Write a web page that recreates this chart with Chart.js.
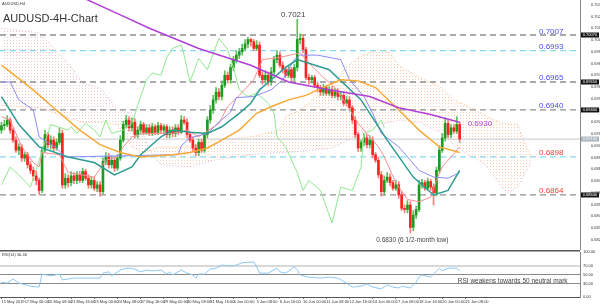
<!DOCTYPE html>
<html>
<head>
<meta charset="utf-8">
<title>AUDUSD-4H-Chart</title>
<script src="https://cdn.jsdelivr.net/npm/chart.js@4.4.1/dist/chart.umd.min.js"></script>
<style>
  html, body { margin: 0; padding: 0; background: #fff; }
  #wrap { position: relative; width: 600px; height: 306px; overflow: hidden; background: #fff; }
  #price-box { position: absolute; left: 0; top: 0; width: 600px; height: 250px; }
  #rsi-box { position: absolute; left: 0; top: 250px; width: 600px; height: 56px; }
</style>
</head>
<body>
<div id="wrap">
  <div id="price-box"><canvas id="price-chart"></canvas></div>
  <div id="rsi-box"><canvas id="rsi-chart"></canvas></div>
</div>
<script>
// --- data ---

const timeLabels = ["15 May 2019", "17 May 00:00", "20 May 08:00", "21 May 16:00", "23 May 00:00", "24 May 08:00",
  "27 May 16:00", "29 May 00:00", "30 May 08:00", "31 May 16:00", "4 Jun 00:00", "5 Jun 08:00", "6 Jun 16:00",
  "10 Jun 00:00", "11 Jun 08:00", "12 Jun 16:00", "14 Jun 00:00", "17 Jun 08:00", "18 Jun 16:00", "20 Jun 00:00",
  "21 Jun 08:00"];
const timeLabelBars = [0, 8, 16, 24, 32, 40, 48, 56, 64, 72, 80, 88, 96, 104, 112, 120, 128, 136, 144, 152, 160];

const priceTicks = [0.70340, 0.70235, 0.70130, 0.70025, 0.69920, 0.69815, 0.69710, 0.69605, 0.69500, 0.69395,
  0.69290, 0.69185, 0.69080, 0.68975, 0.68870, 0.68765, 0.68660, 0.68555, 0.68450, 0.68345, 0.68240];
const rsiTicks = [0, 30, 50, 70, 100];

const openPrices = [
  0.6922, 0.6926, 0.6927, 0.6931, 0.6922, 0.6913, 0.6904, 0.6907, 0.6897, 0.6900,
  0.6891, 0.6886, 0.6881, 0.6877, 0.6868, 0.6904, 0.6918, 0.6909, 0.6913, 0.6906,
  0.6911, 0.6919, 0.6873, 0.6879, 0.6875, 0.6881, 0.6877, 0.6882, 0.6877, 0.6885,
  0.6879, 0.6873, 0.6877, 0.6870, 0.6873, 0.6867, 0.6894, 0.6898, 0.6891, 0.6895,
  0.6888, 0.6897, 0.6913, 0.6927, 0.6931, 0.6924, 0.6929, 0.6918, 0.6922, 0.6927,
  0.6920, 0.6924, 0.6919, 0.6925, 0.6920, 0.6926, 0.6922, 0.6925, 0.6918, 0.6922,
  0.6919, 0.6924, 0.6920, 0.6931, 0.6929, 0.6918, 0.6913, 0.6906, 0.6902, 0.6911,
  0.6904, 0.6918, 0.6931, 0.6940, 0.6949, 0.6956, 0.6952, 0.6962, 0.6971, 0.6967,
  0.6978, 0.6985, 0.6989, 0.6992, 0.6995, 0.6999, 0.7003, 0.7001, 0.6995, 0.6998,
  0.6971, 0.6967, 0.6971, 0.6965, 0.6974, 0.6985, 0.6989, 0.6980, 0.6976, 0.6971,
  0.6976, 0.6969, 0.6978, 0.7003, 0.7004, 0.6994, 0.6969, 0.6967, 0.6969, 0.6962,
  0.6960, 0.6956, 0.6960, 0.6955, 0.6958, 0.6953, 0.6956, 0.6952, 0.6953, 0.6946,
  0.6949, 0.6942, 0.6931, 0.6918, 0.6906, 0.6911, 0.6915, 0.6909, 0.6913, 0.6900,
  0.6895, 0.6882, 0.6867, 0.6877, 0.6880, 0.6875, 0.6870, 0.6873, 0.6864, 0.6852,
  0.6851, 0.6855, 0.6835, 0.6846, 0.6851, 0.6873, 0.6875, 0.6870, 0.6876, 0.6871,
  0.6866, 0.6886, 0.6904, 0.6915, 0.6928, 0.6918, 0.6924, 0.6921, 0.6927
];
const highPrices = [
  0.6929, 0.6931, 0.6935, 0.6933, 0.6924, 0.6916, 0.6910, 0.6909, 0.6902, 0.6902,
  0.6894, 0.6889, 0.6885, 0.6879, 0.6907, 0.6922, 0.6920, 0.6917, 0.6916, 0.6914,
  0.6924, 0.6922, 0.6883, 0.6882, 0.6885, 0.6884, 0.6885, 0.6885, 0.6888, 0.6887,
  0.6882, 0.6880, 0.6880, 0.6876, 0.6876, 0.6897, 0.6902, 0.6901, 0.6899, 0.6898,
  0.6900, 0.6917, 0.6930, 0.6935, 0.6934, 0.6933, 0.6932, 0.6925, 0.6930, 0.6929,
  0.6927, 0.6927, 0.6928, 0.6927, 0.6929, 0.6928, 0.6927, 0.6927, 0.6925, 0.6925,
  0.6927, 0.6927, 0.6935, 0.6934, 0.6932, 0.6920, 0.6916, 0.6909, 0.6914, 0.6914,
  0.6920, 0.6934, 0.6944, 0.6953, 0.6960, 0.6959, 0.6966, 0.6975, 0.6974, 0.6981,
  0.6988, 0.6993, 0.6995, 0.6999, 0.7003, 0.7005, 0.7004, 0.7003, 0.7002, 0.7001,
  0.6974, 0.6975, 0.6974, 0.6978, 0.6988, 0.6993, 0.6992, 0.6983, 0.6978, 0.6979,
  0.6978, 0.6981, 0.7021, 0.7008, 0.7007, 0.6996, 0.6972, 0.6971, 0.6971, 0.6965,
  0.6962, 0.6963, 0.6962, 0.6961, 0.6961, 0.6959, 0.6959, 0.6956, 0.6956, 0.6952,
  0.6952, 0.6944, 0.6934, 0.6920, 0.6913, 0.6919, 0.6918, 0.6917, 0.6916, 0.6902,
  0.6898, 0.6885, 0.6881, 0.6884, 0.6883, 0.6877, 0.6877, 0.6876, 0.6867, 0.6855,
  0.6859, 0.6858, 0.6850, 0.6854, 0.6877, 0.6878, 0.6877, 0.6879, 0.6878, 0.6874,
  0.6889, 0.6908, 0.6919, 0.6933, 0.6931, 0.6927, 0.6927, 0.6934, 0.6929
];
const lowPrices = [
  0.6919, 0.6922, 0.6925, 0.6919, 0.6911, 0.6902, 0.6900, 0.6894, 0.6894, 0.6888,
  0.6883, 0.6877, 0.6873, 0.6864, 0.6866, 0.6902, 0.6906, 0.6905, 0.6903, 0.6904,
  0.6909, 0.6870, 0.6870, 0.6871, 0.6872, 0.6874, 0.6874, 0.6875, 0.6875, 0.6877,
  0.6870, 0.6870, 0.6868, 0.6867, 0.6863, 0.6865, 0.6891, 0.6888, 0.6888, 0.6885,
  0.6886, 0.6895, 0.6911, 0.6924, 0.6921, 0.6921, 0.6915, 0.6915, 0.6919, 0.6918,
  0.6918, 0.6917, 0.6917, 0.6918, 0.6918, 0.6919, 0.6919, 0.6915, 0.6915, 0.6916,
  0.6916, 0.6918, 0.6919, 0.6927, 0.6915, 0.6911, 0.6903, 0.6899, 0.6899, 0.6902,
  0.6902, 0.6915, 0.6928, 0.6937, 0.6946, 0.6949, 0.6949, 0.6960, 0.6964, 0.6964,
  0.6975, 0.6982, 0.6986, 0.6989, 0.6993, 0.6996, 0.6997, 0.6993, 0.6993, 0.6969,
  0.6963, 0.6964, 0.6962, 0.6962, 0.6971, 0.6982, 0.6978, 0.6973, 0.6969, 0.6969,
  0.6966, 0.6966, 0.6975, 0.6999, 0.6991, 0.6967, 0.6963, 0.6964, 0.6960, 0.6956,
  0.6953, 0.6953, 0.6953, 0.6953, 0.6951, 0.6951, 0.6949, 0.6949, 0.6944, 0.6944,
  0.6939, 0.6928, 0.6915, 0.6903, 0.6903, 0.6908, 0.6906, 0.6906, 0.6897, 0.6893,
  0.6879, 0.6863, 0.6864, 0.6875, 0.6872, 0.6868, 0.6868, 0.6861, 0.6850, 0.6848,
  0.6848, 0.6830, 0.6832, 0.6843, 0.6849, 0.6870, 0.6868, 0.6868, 0.6868, 0.6855,
  0.6863, 0.6884, 0.6902, 0.6912, 0.6915, 0.6915, 0.6919, 0.6919, 0.6911
];
const closePrices = [
  0.6926, 0.6927, 0.6931, 0.6922, 0.6913, 0.6904, 0.6907, 0.6897, 0.6900, 0.6891,
  0.6886, 0.6881, 0.6877, 0.6868, 0.6904, 0.6918, 0.6909, 0.6913, 0.6906, 0.6911,
  0.6919, 0.6873, 0.6879, 0.6875, 0.6881, 0.6877, 0.6882, 0.6877, 0.6885, 0.6879,
  0.6873, 0.6877, 0.6870, 0.6873, 0.6867, 0.6894, 0.6898, 0.6891, 0.6895, 0.6888,
  0.6897, 0.6913, 0.6927, 0.6931, 0.6924, 0.6929, 0.6918, 0.6922, 0.6927, 0.6920,
  0.6924, 0.6919, 0.6925, 0.6920, 0.6926, 0.6922, 0.6925, 0.6918, 0.6922, 0.6919,
  0.6924, 0.6920, 0.6931, 0.6929, 0.6918, 0.6913, 0.6906, 0.6902, 0.6911, 0.6904,
  0.6918, 0.6931, 0.6940, 0.6949, 0.6956, 0.6952, 0.6962, 0.6971, 0.6967, 0.6978,
  0.6985, 0.6989, 0.6992, 0.6995, 0.6999, 0.7003, 0.7001, 0.6995, 0.6998, 0.6971,
  0.6967, 0.6971, 0.6965, 0.6974, 0.6985, 0.6989, 0.6980, 0.6976, 0.6971, 0.6976,
  0.6969, 0.6978, 0.7003, 0.7004, 0.6994, 0.6969, 0.6967, 0.6969, 0.6962, 0.6960,
  0.6956, 0.6960, 0.6955, 0.6958, 0.6953, 0.6956, 0.6952, 0.6953, 0.6946, 0.6949,
  0.6942, 0.6931, 0.6918, 0.6906, 0.6911, 0.6915, 0.6909, 0.6913, 0.6900, 0.6895,
  0.6882, 0.6867, 0.6877, 0.6880, 0.6875, 0.6870, 0.6873, 0.6864, 0.6852, 0.6851,
  0.6855, 0.6835, 0.6846, 0.6851, 0.6873, 0.6875, 0.6870, 0.6876, 0.6871, 0.6866,
  0.6886, 0.6904, 0.6915, 0.6928, 0.6918, 0.6924, 0.6921, 0.6927, 0.6914
];

// moving averages (bar index, price)
const maPurpleBars = [20, 30, 41, 51, 68, 86, 99, 113, 127, 137, 148, 158];
const maPurple = [0.7051, 0.7038, 0.7025, 0.7013, 0.6995, 0.6980, 0.6965, 0.6958, 0.6952, 0.6942, 0.6936, 0.6929];

const maOrangeBars = [0, 10, 18, 27, 34, 41, 48, 59, 65, 71, 76, 82, 88, 94, 99, 105, 109, 117, 123, 129, 137, 144, 151, 158];
const maOrange = [0.6980, 0.6960, 0.6942, 0.6922, 0.6909, 0.6902, 0.6898, 0.6900, 0.6902, 0.6906, 0.6913, 0.6922,
  0.6937, 0.6944, 0.6949, 0.6953, 0.6958, 0.6967, 0.6966, 0.6960, 0.6940, 0.6922, 0.6907, 0.6902];

const maTealBars = [0, 6, 13, 23, 32, 39, 45, 48, 55, 59, 65, 71, 76, 82, 86, 89, 93, 98, 102, 113, 124, 133, 142, 149, 154, 158];
const maTeal = [0.6952, 0.6927, 0.6907, 0.6898, 0.6893, 0.6882, 0.6889, 0.6900, 0.6916, 0.6922, 0.6920, 0.6919,
  0.6925, 0.6937, 0.6946, 0.6958, 0.6967, 0.6978, 0.6985, 0.6976, 0.6949, 0.6913, 0.6880, 0.6864, 0.6868, 0.6886];

// ichimoku lines
const kijunBars = [0, 3, 6, 11, 13, 19, 22, 61, 62, 65, 71, 75, 79, 81, 87, 93, 97, 101, 103, 109, 117, 120, 125, 128,
  131, 137, 144, 149, 154, 158];
const kijun = [0.6965, 0.6965, 0.6949, 0.6940, 0.6916, 0.6906, 0.6898, 0.6900, 0.6908, 0.6915, 0.6919, 0.6929,
  0.6938, 0.6951, 0.6952, 0.6958, 0.6967, 0.6985, 0.6989, 0.6989, 0.6985, 0.6967, 0.6952, 0.6937, 0.6919, 0.6907,
  0.6886, 0.6880, 0.6879, 0.6884];

const tenkanBars = [0, 3, 7, 11, 13, 14, 20, 23, 32, 36, 40, 42, 45, 49, 59, 64, 68, 75, 78, 82, 87, 90, 96, 103, 106,
  111, 115, 118, 123, 130, 132, 136, 140, 144, 148, 150, 152, 158];
const tenkan = [0.6934, 0.6931, 0.6907, 0.6893, 0.6889, 0.6902, 0.6900, 0.6884, 0.6880, 0.6895, 0.6898, 0.6907,
  0.6916, 0.6919, 0.6919, 0.6922, 0.6916, 0.6928, 0.6943, 0.6953, 0.6967, 0.6985, 0.6987, 0.6991, 0.6982, 0.6969,
  0.6960, 0.6949, 0.6928, 0.6907, 0.6898, 0.6875, 0.6860, 0.6858, 0.6862, 0.6877, 0.6889, 0.6907];

const chikouBars = [0, 3, 6, 10, 13, 17, 23, 24, 26, 29, 32, 34, 36, 38, 42, 45, 48, 50, 52, 55, 57, 59, 62, 63, 65,
  68, 71, 75, 78, 80, 82, 85, 88, 92, 94, 95, 98, 102, 104, 106, 110, 114, 117, 121, 124, 125, 128, 131, 132];
const chikou = [0.6873, 0.6889, 0.6882, 0.6871, 0.6895, 0.6927, 0.6922, 0.6925, 0.6919, 0.6928, 0.6922, 0.6916,
  0.6931, 0.6919, 0.6922, 0.6928, 0.6952, 0.6967, 0.6973, 0.6971, 0.6987, 0.6995, 0.6998, 0.6989, 0.6965, 0.6986,
  0.6976, 0.7004, 0.6994, 0.6978, 0.6958, 0.6952, 0.6955, 0.6946, 0.6937, 0.6916, 0.6907, 0.6884, 0.6868, 0.6877,
  0.6868, 0.6839, 0.6871, 0.6868, 0.6889, 0.6919, 0.6922, 0.6931, 0.6924];

const cloudBars = [0, 13, 23, 28, 34, 40, 45, 49, 51, 55, 65, 73, 86, 96, 98, 103, 107, 114, 118, 123, 130, 134, 137,
  144, 151, 156, 161, 166, 170, 173, 175, 178, 181, 183];
const spanA = [0.6944, 0.6942, 0.6933, 0.6929, 0.6929, 0.6927, 0.6907, 0.6902, 0.6904, 0.6907, 0.6907, 0.6913,
  0.6916, 0.6922, 0.6934, 0.6940, 0.6949, 0.6958, 0.6976, 0.6987, 0.6994, 0.6991, 0.6980, 0.6969, 0.6961, 0.6949,
  0.6943, 0.6936, 0.6931, 0.6928, 0.6927, 0.6927, 0.6907, 0.6898];
const spanB = [0.7013, 0.7009, 0.6982, 0.6964, 0.6960, 0.6940, 0.6937, 0.6918, 0.6904, 0.6891, 0.6889, 0.6895,
  0.6900, 0.6902, 0.6902, 0.6903, 0.6904, 0.6906, 0.6911, 0.6918, 0.6927, 0.6929, 0.6931, 0.6929, 0.6920, 0.6909,
  0.6900, 0.6893, 0.6880, 0.6869, 0.6866, 0.6871, 0.6886, 0.6895];

const rsiBars = [0, 2, 4, 6, 10, 13, 14, 17, 20, 21, 25, 28, 31, 34, 35, 37, 38, 41, 43, 45, 48, 50, 52, 55, 57, 58, 59,
  62, 64, 66, 67, 68, 70, 72, 74, 76, 79, 81, 83, 87, 88, 89, 92, 95, 96, 98, 101, 102, 103, 106, 110, 113, 116, 119,
  121, 124, 126, 128, 131, 133, 135, 137, 138, 141, 143, 144, 145, 148, 149, 151, 152, 154, 156, 157, 158];
const rsiValues = [33, 31, 40, 31, 24, 22, 51, 47, 51, 38, 42, 42, 42, 42, 53, 56, 47, 60, 64, 64, 56, 60, 58, 60, 51, 56,
  49, 60, 53, 49, 42, 51, 51, 62, 64, 71, 69, 71, 76, 78, 67, 53, 53, 64, 56, 53, 67, 60, 49, 44, 42, 44, 42, 31, 22, 24,
  29, 22, 18, 27, 22, 20, 24, 20, 33, 44, 49, 44, 51, 64, 58, 64, 64, 64, 58];
const rsiLast = 56.46;

const keyLevels = [0.7007, 0.6965, 0.6940, 0.6864];
const fibLevels = [0.6993, 0.6898];
const lastPrice = 0.6914;
const maLabelValue = 0.6930;
const highBar = 102;
const lowBar = 141;

// --- drawing ---

Chart.defaults.font.family = '"Liberation Sans", Arial, sans-serif';

const X_MIN = -0.5;
const X_MAX = 199.5;
const FONT = '"Liberation Sans", Arial, sans-serif';

const pts = (bars, vals) => bars.map((b, i) => ({ x: b, y: vals[i] }));

const lineSet = (label, data, color, width, order, extra) => Object.assign({
  type: "line",
  label,
  data,
  borderColor: color,
  borderWidth: width,
  pointRadius: 0,
  fill: false,
  tension: 0,
  order,
}, extra || {});

function dotPattern(color) {
  const c = document.createElement("canvas");
  c.width = 3;
  c.height = 3;
  const g = c.getContext("2d");
  g.fillStyle = color;
  g.fillRect(1, 1, 1, 1);
  return g.createPattern(c, "repeat");
}

const isUp = closePrices.map((c, i) => c >= openPrices[i]);
const bodyData = openPrices.map((o, i) => ({ x: i, y: [o, closePrices[i]] }));
const wickData = highPrices.map((h, i) => ({ x: i, y: [lowPrices[i], h] }));

const levelLine = (p, color) => lineSet("level", [{ x: X_MIN, y: p }, { x: X_MAX, y: p }], color, 1.3, 15,
  { borderDash: [6, 4] });

const priceNotes = {
  id: "priceNotes",
  afterDatasetsDraw(chart) {
    const { ctx, chartArea } = chart;
    const x = chart.scales.x;
    const y = chart.scales.y;
    ctx.save();
    ctx.textBaseline = "alphabetic";

    ctx.fillStyle = "#333";
    ctx.font = "4px " + FONT;
    ctx.fillText("AUDUSD,H4", 2, 5);
    ctx.font = "11px " + FONT;
    ctx.fillText("AUDUSD-4H-Chart", 3, 22);

    ctx.font = "8px " + FONT;
    [...keyLevels, ...fibLevels].forEach((p) => {
      ctx.fillStyle = p > lastPrice ? "#4b4bf5" : "#f53c3c";
      ctx.fillText(p.toFixed(4), 539, y.getPixelForValue(p) - 1.5);
    });

    const lastMa = maPurpleBars.length - 1;
    ctx.fillStyle = "#b23fd6";
    ctx.fillText(maLabelValue.toFixed(4), x.getPixelForValue(maPurpleBars[lastMa]) + 8,
      y.getPixelForValue(maPurple[lastMa]) + 4);

    ctx.fillStyle = "#444";
    ctx.textAlign = "center";
    ctx.fillText(highPrices[highBar].toFixed(4), x.getPixelForValue(highBar) - 4,
      y.getPixelForValue(highPrices[highBar]) - 2);
    ctx.font = "6.5px " + FONT;
    ctx.fillText(lowPrices[lowBar].toFixed(4) + " (6 1/2-month low)", x.getPixelForValue(lowBar) + 2,
      y.getPixelForValue(lowPrices[lowBar]) + 9);

    // price boxes on the axis
    ctx.font = "4px " + FONT;
    ctx.textBaseline = "middle";
    const box = (p, bg, fg) => {
      const py = y.getPixelForValue(p);
      ctx.fillStyle = bg;
      ctx.fillRect(chartArea.right + 1, py - 2.5, 18, 5);
      ctx.fillStyle = fg;
      ctx.fillText(p.toFixed(5), chartArea.right + 10, py);
    };
    keyLevels.forEach((p) => box(p, "#111", "#fff"));
    box(lastPrice, "#a9b4bf", "#fff");
    ctx.restore();
  },
};

new Chart(document.getElementById("price-chart"), {
  type: "line",
  data: {
    datasets: [
      lineSet("Span A", pts(cloudBars, spanA), "rgba(244,164,96,0.8)", 1, 30, {
        borderDash: [1, 2],
        fill: { target: "+1", above: dotPattern("rgba(245,160,100,0.55)"), below: dotPattern("rgba(232,150,150,0.55)") },
      }),
      lineSet("Span B", pts(cloudBars, spanB), "rgba(216,160,200,0.8)", 1, 31, { borderDash: [1, 2] }),
      ...keyLevels.map((p) => levelLine(p, "#8f8f8f")),
      ...fibLevels.map((p) => levelLine(p, "#86dcef")),
      lineSet("last", [{ x: X_MIN, y: lastPrice }, { x: X_MAX, y: lastPrice }], "#cfd3d8", 1.3, 16),
      {
        type: "bar",
        label: "wicks",
        data: wickData,
        backgroundColor: isUp.map((u) => (u ? "#5cc05c" : "#ff7a7a")),
        barThickness: 1,
        grouped: false,
        order: 10,
      },
      {
        type: "bar",
        label: "bodies",
        data: bodyData,
        backgroundColor: isUp.map((u) => (u ? "#1e9a1e" : "#ff2222")),
        barThickness: 2,
        grouped: false,
        order: 9,
      },
      lineSet("Chikou", pts(chikouBars, chikou), "#8fe88f", 1, 6),
      lineSet("Tenkan", pts(tenkanBars, tenkan), "#f59090", 1, 5),
      lineSet("Kijun", pts(kijunBars, kijun), "#8a8af5", 1, 4),
      lineSet("SMA teal", pts(maTealBars, maTeal), "#2e9c92", 1.5, 3),
      lineSet("SMA orange", pts(maOrangeBars, maOrange), "#f7a935", 1.5, 2),
      lineSet("SMA purple", pts(maPurpleBars, maPurple), "#b23fd6", 1.5, 1),
    ],
  },
  options: {
    responsive: true,
    maintainAspectRatio: false,
    animation: false,
    events: [],
    layout: { padding: 0 },
    plugins: { legend: { display: false }, tooltip: { enabled: false } },
    scales: {
      x: { type: "linear", min: X_MIN, max: X_MAX, offset: false, grid: { offset: false }, display: false },
      y: {
        type: "linear",
        position: "right",
        min: 0.68148,
        max: 0.70383,
        grid: { display: false },
        border: { display: true, color: "#8a8a8a" },
        afterBuildTicks(scale) {
          scale.ticks = priceTicks.map((v) => ({ value: v }));
        },
        afterFit(scale) {
          scale.width = 20;
          scale.paddingTop = 0;
          scale.paddingBottom = 0;
        },
        ticks: {
          autoSkip: false,
          padding: 3,
          color: "#333",
          font: { size: 4 },
          callback: (v) => v.toFixed(5),
        },
      },
    },
  },
  plugins: [priceNotes],
});

const rsiNotes = {
  id: "rsiNotes",
  beforeDraw(chart) {
    const { ctx, chartArea } = chart;
    ctx.save();
    ctx.fillStyle = "#555";
    ctx.fillRect(0, 0, chartArea.right, 1.5);
    ctx.restore();
  },
  afterDatasetsDraw(chart) {
    const { ctx } = chart;
    const x = chart.scales.x;
    const y = chart.scales.y;
    ctx.save();
    ctx.fillStyle = "#333";
    ctx.font = "4px " + FONT;
    ctx.fillText("RSI(14) " + rsiLast.toFixed(2), 2, 6);
    ctx.fillStyle = "#444";
    ctx.font = "6.5px " + FONT;
    ctx.fillText("RSI weakens towards 50 neutral mark", x.getPixelForValue(157) + 1, y.getPixelForValue(50) + 8);
    ctx.restore();
  },
};

new Chart(document.getElementById("rsi-chart"), {
  type: "line",
  data: {
    datasets: [lineSet("RSI", pts(rsiBars, rsiValues), "#8cc8f5", 1, 1)],
  },
  options: {
    responsive: true,
    maintainAspectRatio: false,
    animation: false,
    events: [],
    layout: { padding: { top: 2, left: 0, right: 0, bottom: 0 } },
    plugins: { legend: { display: false }, tooltip: { enabled: false } },
    scales: {
      x: {
        type: "linear",
        min: X_MIN,
        max: X_MAX,
        offset: false,
        border: { display: true, color: "#555" },
        grid: { display: true, offset: false, drawOnChartArea: false, tickLength: 2, color: "#777" },
        afterBuildTicks(scale) {
          scale.ticks = timeLabelBars.map((v) => ({ value: v }));
        },
        afterFit(scale) {
          scale.height = 9;
          scale.paddingLeft = 0;
          scale.paddingRight = 0;
        },
        ticks: {
          autoSkip: false,
          maxRotation: 0,
          align: "start",
          padding: 0,
          color: "#333",
          font: { size: 4 },
          callback: (v) => timeLabels[timeLabelBars.indexOf(v)],
        },
      },
      y: {
        type: "linear",
        position: "right",
        min: 0,
        max: 100,
        border: { display: true, color: "#8a8a8a" },
        grid: {
          drawTicks: false,
          color: (c) => (c.tick.value === 70 ? "#d8d8d8" : (c.tick.value === 50 || c.tick.value === 30) ? "#8a8a8a" : "rgba(0,0,0,0)"),
          lineWidth: (c) => (c.tick.value === 70 ? 2 : 1),
        },
        afterBuildTicks(scale) {
          scale.ticks = rsiTicks.map((v) => ({ value: v }));
        },
        afterFit(scale) {
          scale.width = 20;
          scale.paddingTop = 0;
          scale.paddingBottom = 0;
        },
        ticks: {
          autoSkip: false,
          padding: 3,
          color: "#333",
          font: { size: 4 },
          callback: (v) => v.toFixed(2),
        },
      },
    },
  },
  plugins: [rsiNotes],
});
</script>
</body>
</html>
